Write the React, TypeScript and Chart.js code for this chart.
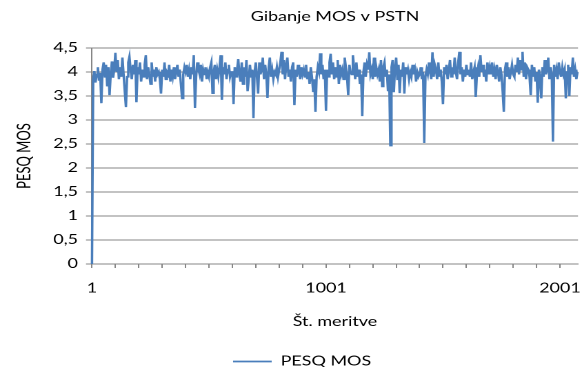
import { useEffect, useRef } from 'react';
import { Chart, registerables } from 'chart.js';

Chart.register(...registerables);

const chartTitle = 'Gibanje MOS v PSTN';
const seriesName = 'PESQ MOS';
const xAxisTitle = 'Št. meritve';
const yAxisTitle = 'PESQ MOS';

// measurement numbers: first, spacing of the sampled readings, last on the axis
const firstMeasurement = 1;
const measurementStep = 5;
const lastMeasurement = 2078;

const mosValues = [
  0, 3.85, 4.02, 3.78, 3.95, 4.1, 3.82, 3.98, 3.35, 4.05, 4.2, 3.9, 4.15, 3.7, 4.1, 3.52, 3.95, 4.22, 3.88, 4.05,
  4.4, 4.0, 4.25, 3.85, 4.1, 3.9, 4.3, 3.95, 3.6, 3.27, 3.9, 4.2, 4.32, 4.05, 3.85, 4.15, 3.95, 4.25, 3.37, 4.1,
  3.95, 4.2, 3.8, 4.05, 3.9, 4.15, 4.35, 3.85, 4.1, 3.95, 3.75, 4.2, 3.9, 4.05, 3.8, 4.1, 3.95, 4.0, 3.85, 3.55,
  4.05, 3.9, 4.2, 3.85, 4.0, 3.95, 4.15, 3.8, 4.05, 3.9, 4.1, 3.85, 4.0, 4.15, 3.9, 4.05, 3.75, 3.45, 3.95, 4.1,
  4.0, 4.15, 3.9, 4.05, 3.85, 4.1, 3.95, 4.35, 3.25, 3.9, 4.2, 4.05, 3.95, 4.15, 3.8, 4.05, 3.95, 4.1, 3.85, 4.0,
  3.9, 4.1, 4.2, 3.56, 4.0, 4.15, 3.85, 4.05, 3.9, 4.1, 4.35, 3.42, 4.1, 3.95, 4.2, 3.85, 4.05, 4.15, 3.9, 4.0,
  4.0, 3.33, 4.1, 3.9, 4.05, 4.27, 3.95, 3.8, 4.2, 3.75, 4.1, 3.9, 4.25, 3.6, 3.85, 4.15, 3.9, 4.05, 3.04, 4.0,
  4.2, 3.9, 3.55, 4.2, 3.95, 4.05, 4.3, 3.85, 4.15, 3.95, 3.46, 4.1, 4.3, 3.9, 4.05, 3.85, 4.0, 3.95, 4.1, 3.9,
  4.05, 4.2, 4.42, 3.95, 4.25, 3.85, 4.15, 4.3, 3.9, 4.05, 3.8, 4.1, 4.2, 3.31, 4.05, 3.9, 4.15, 4.0, 3.85, 4.1,
  3.95, 4.05, 3.9, 4.15, 3.85, 4.0, 3.75, 4.1, 3.9, 3.6, 3.85, 3.17, 3.9, 4.1, 4.0, 4.39, 3.95, 4.15, 3.85, 4.05,
  3.19, 4.05, 3.9, 4.2, 4.38, 3.95, 4.2, 3.85, 4.1, 3.9, 4.25, 3.75, 4.15, 3.95, 4.05, 3.85, 4.3, 4.1, 3.9, 3.52,
  4.15, 4.0, 3.95, 4.35, 4.1, 3.85, 4.2, 3.9, 4.05, 3.75, 3.95, 3.08, 4.0, 4.2, 3.9, 4.15, 4.05, 4.41, 3.95, 4.05,
  3.85, 4.3, 3.9, 4.1, 3.95, 4.05, 3.8, 4.25, 3.7, 4.1, 4.2, 3.9, 4.05, 3.6, 3.95, 2.47, 4.1, 4.25, 3.58, 4.1,
  4.3, 3.85, 4.15, 3.56, 4.05, 3.9, 4.2, 3.55, 4.1, 3.95, 4.05, 3.85, 4.0, 3.9, 4.15, 3.95, 4.05, 3.8, 4.0, 3.9,
  3.95, 4.1, 3.85, 4.0, 2.52, 3.9, 4.05, 3.95, 4.2, 4.0, 3.85, 4.41, 3.9, 4.15, 4.05, 3.85, 4.2, 3.9, 4.05, 3.8,
  3.33, 4.1, 3.95, 4.15, 3.85, 4.05, 4.25, 3.9, 4.1, 3.95, 4.3, 4.0, 3.85, 4.2, 4.42, 3.95, 4.1, 3.8, 4.05, 3.9,
  4.15, 3.95, 4.05, 3.9, 4.2, 3.85, 4.0, 4.1, 3.48, 3.95, 4.1, 3.9, 4.35, 4.0, 4.15, 3.9, 4.05, 3.8, 4.2, 3.95,
  4.1, 3.95, 4.2, 3.9, 4.05, 3.85, 4.15, 4.0, 3.8, 4.1, 3.95, 3.6, 3.17, 4.05, 4.2, 3.9, 4.1, 3.85, 4.0, 4.15,
  3.95, 3.9, 4.15, 4.0, 4.3, 3.95, 4.25, 4.05, 4.42, 3.9, 4.2, 3.85, 4.1, 4.05, 3.9, 3.52, 4.15, 3.9, 4.1, 3.8,
  4.0, 3.36, 4.05, 3.9, 3.45, 4.1, 3.9, 4.25, 3.95, 4.05, 4.3, 3.85, 4.1, 3.95, 2.55, 4.15, 3.9, 4.05, 3.85, 4.2,
  4.0, 3.9, 4.1, 3.95, 4.05, 3.45, 4.0, 4.15, 3.5, 4.1, 3.95, 4.3, 3.9, 4.05, 3.85, 4.0,
];

const yTickValues = [0, 0.5, 1, 1.5, 2, 2.5, 3, 3.5, 4, 4.5];
const yTickLabels = ['0', '0,5', '1', '1,5', '2', '2,5', '3', '3,5', '4', '4,5'];

const xTickValues = [
  1, 101, 201, 301, 401, 501, 601, 701, 801, 901, 1001,
  1101, 1201, 1301, 1401, 1501, 1601, 1701, 1801, 1901, 2001,
];
const xTickLabels = [
  '1', '', '', '', '', '', '', '', '', '', '1001',
  '', '', '', '', '', '', '', '', '', '2001',
];

const FONT = 'Lato';
const TEXT = '#000000';
const GRID = '#868686';
const LINE = '#4A7EBB';

export default function App() {
  const canvasRef = useRef<HTMLCanvasElement>(null);

  useEffect(() => {
    const canvas = canvasRef.current;
    if (!canvas) return;
    const chart = new Chart(canvas, {
      type: 'line',
      data: {
        datasets: [
          {
            label: seriesName,
            data: mosValues.map((y, i) => ({ x: firstMeasurement + i * measurementStep, y })),
            borderColor: LINE,
            backgroundColor: LINE,
            borderWidth: 1.75,
            pointRadius: 0,
            pointHoverRadius: 0,
            tension: 0,
            clip: 4,
          } as any,
        ],
      },
      options: {
        animation: false,
        responsive: true,
        maintainAspectRatio: false,
        devicePixelRatio: 2,
        layout: { padding: { left: 19, right: 2.9, top: 0, bottom: -11 } },
        plugins: {
          title: {
            display: true,
            text: chartTitle,
            fullSize: false,
            color: TEXT,
            font: { family: FONT, size: 13, weight: 'normal' },
            padding: { top: 9.2, bottom: 23.2 },
          },
          legend: {
            position: 'bottom',
            labels: {
              usePointStyle: true,
              pointStyle: 'line',
              pointStyleWidth: 28,
              color: TEXT,
              font: { family: FONT, size: 13 },
              padding: 10,
            },
          },
          tooltip: { enabled: false },
        },
        scales: {
          x: {
            type: 'linear',
            min: firstMeasurement,
            max: lastMeasurement,
            afterBuildTicks: (s: any) => {
              s.ticks = xTickValues.map((v) => ({ value: v }));
            },
            afterFit: (s: any) => {
              s.height = 81;
              s.paddingLeft = 0;
              s.paddingRight = 0;
            },
            ticks: {
              autoSkip: false,
              maxRotation: 0,
              minRotation: 0,
              padding: 12.5,
              color: TEXT,
              font: { family: FONT, size: 13 },
              callback: (_v: any, i: number) => xTickLabels[i],
            },
            grid: { drawOnChartArea: false, drawTicks: true, tickLength: 4, color: GRID },
            border: { display: true, color: GRID },
            title: {
              display: true,
              text: xAxisTitle,
              color: TEXT,
              font: { family: FONT, size: 13 },
              padding: { top: 0, bottom: 15.2 },
            },
          },
          y: {
            type: 'linear',
            min: 0,
            max: 4.5,
            afterBuildTicks: (s: any) => {
              s.ticks = yTickValues.map((v) => ({ value: v }));
            },
            afterFit: (s: any) => {
              s.width = 47.7;
            },
            ticks: {
              padding: 5.75,
              color: TEXT,
              font: { family: FONT, size: 13 },
              callback: (_v: any, i: number) => yTickLabels[i],
            },
            grid: { color: GRID, drawTicks: true, tickLength: 4.35 },
            border: { display: true, color: GRID },
            title: {
              display: true,
              text: yAxisTitle,
              color: TEXT,
              font: { family: FONT, size: 13 },
              padding: { top: -9, bottom: 0 },
            },
          },
        },
      } as any,
    });
    return () => chart.destroy();
  }, []);

  return (
    <div style={{ position: 'absolute', left: 0, top: 0, width: 582, height: 367, overflow: 'hidden', background: '#fff' }}>
      <div style={{ width: 422, height: 367, transform: 'scaleX(1.3791)', transformOrigin: '0 0' }}>
        <canvas ref={canvasRef} />
      </div>
    </div>
  );
}
